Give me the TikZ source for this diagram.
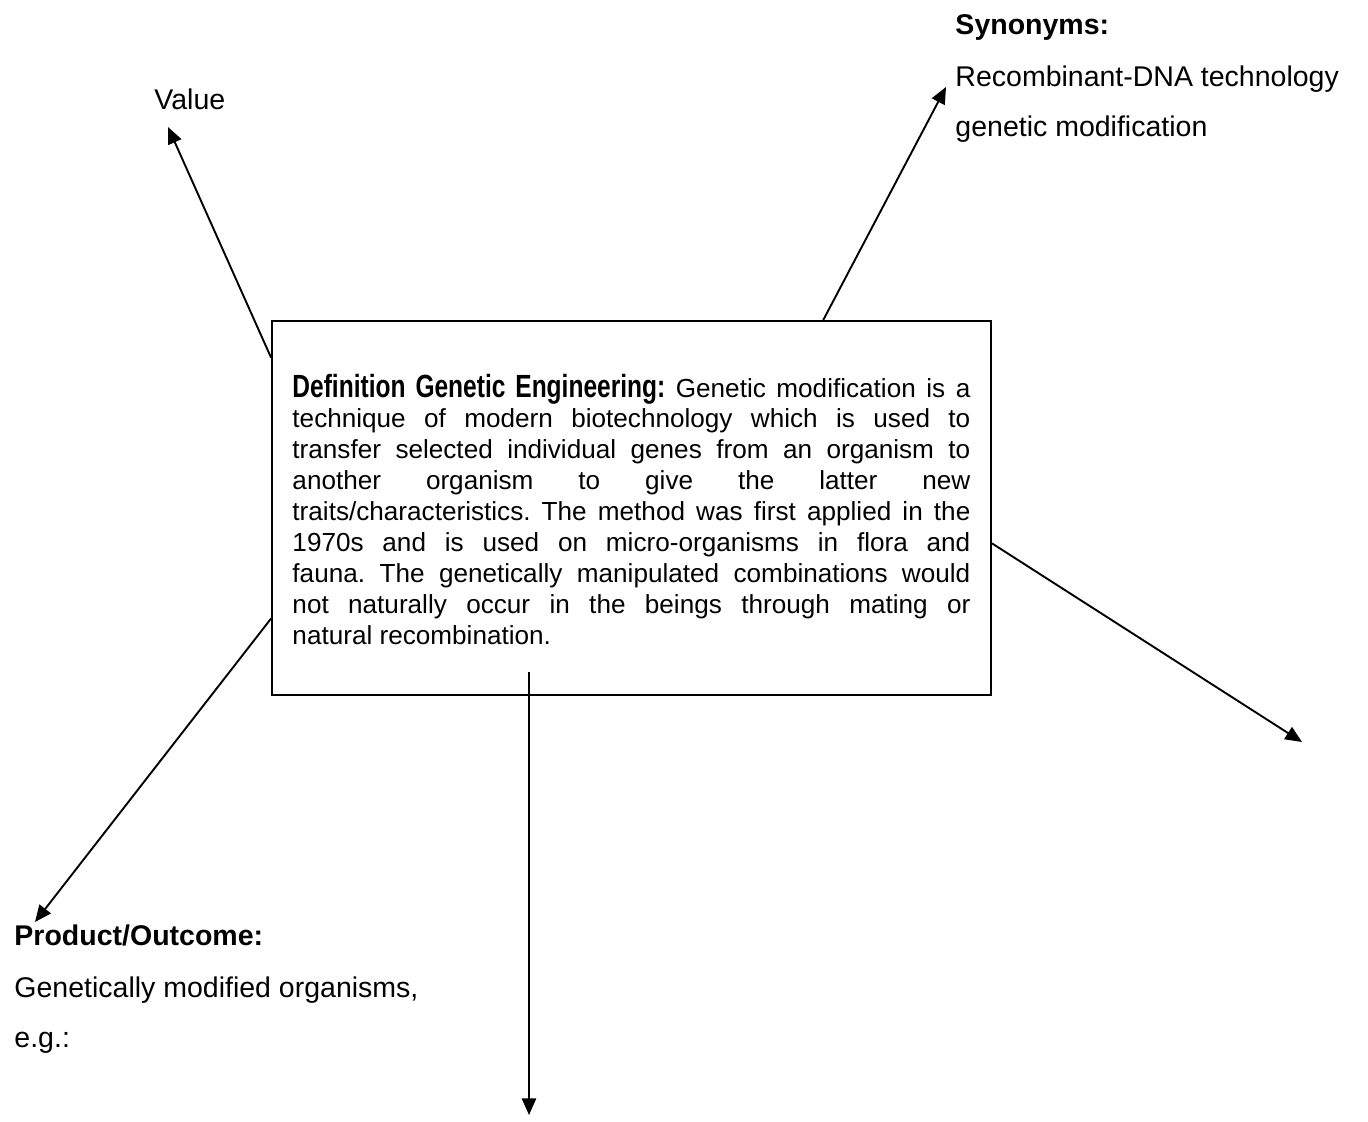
\documentclass[tikz,border=0pt]{standalone}
\usepackage{fontspec}
\setmainfont{Liberation Sans}
\newfontfamily\headfont[FakeStretch=0.765]{Liberation Sans}
\usetikzlibrary{arrows.meta,calc}

\begin{document}
\frenchspacing
\begin{tikzpicture}[x=0.421pt,y=-0.421pt,
		arr/.style={-{Triangle[length=7pt,width=6pt]},line width=0.8pt},
		lbl/.style={anchor=base west,inner sep=0pt,font=\fontsize{12}{14}\selectfont},
		lblhead/.style={lbl,font=\fontsize{12}{14}\selectfont\bfseries},
		defbox/.style={draw,line width=0.8pt,minimum width=302.7pt,minimum height=157.5pt,inner sep=0pt},
		deftext/.style={anchor=base west,inner sep=0pt,text width=285.4pt,align=justify,font=\fontsize{11}{13.05}\selectfont}]
			%%%%% START %%%%%
			\useasboundingbox (0,0) rectangle (1368,1122);
			
			% the definition
			\node[defbox] (box) at (631.5,508) {};
			\node[deftext] (def) at (292,397) {\hyphenpenalty=10000\tolerance=10000%
				{\headfont\bfseries\fontsize{13.5}{13.05}\selectfont Definition Genetic Engineering:} Genetic modification is a\linebreak
				technique of modern biotechnology which is used to\linebreak
				transfer selected individual genes from an organism to\linebreak
				another organism to give the latter new\linebreak
				traits/characteristics. The method was first applied in the\linebreak
				1970s and is used on micro-organisms in flora and\linebreak
				fauna. The genetically manipulated combinations would\linebreak
				not naturally occur in the beings through mating or\linebreak
				natural recombination.};
			
			% the labels round it
			\node[lbl] (value) at (154,110) {Value};
			
			\node[lblhead] (syn) at (955,35) {Synonyms:};
			\node[lbl] (syn1) at (955,87) {Recombinant-DNA technology};
			\node[lbl] (syn2) at (955,137) {genetic modification};
			
			\node[lblhead] (prod) at (14,945) {Product/Outcome:};
			\node[lbl] (prod1) at (14,997) {Genetically modified organisms,};
			\node[lbl] (prod2) at (14,1047) {e.g.:};
			
			% arrow ends
			\coordinate (valuetip) at (168,127);
			\coordinate (syntip) at (946,87);
			\coordinate (prodtip) at (35,922);
			\coordinate (righttip) at (1302,742);
			\coordinate (downfoot) at (529,672);
			\coordinate (downtip) at (529,1115);
			
			\draw[arr] ($(box.north west)!0.1!(box.south west)$) -- (valuetip);
			\draw[arr] ($(box.north west)!0.766!(box.north east)$) -- (syntip);
			\draw[arr] ($(box.north east)!0.594!(box.south east)$) -- (righttip);
			\draw[arr] ($(box.north west)!0.794!(box.south west)$) -- (prodtip);
			\draw[arr] (downfoot) -- (downtip);
			
			%%%%% END %%%%%
\end{tikzpicture}
\end{document}
